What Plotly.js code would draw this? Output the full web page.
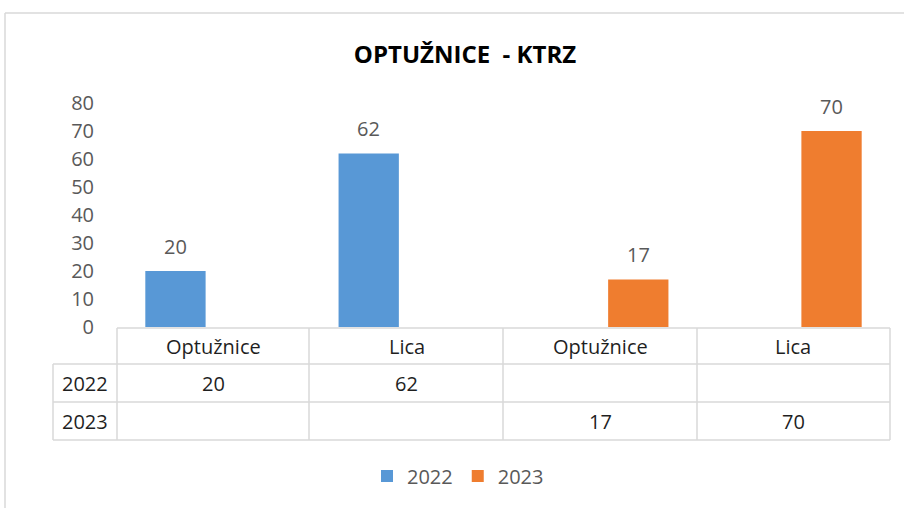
<!DOCTYPE html>
<html>
<head>
<meta charset="utf-8">
<script src="https://cdn.plot.ly/plotly-3.0.1.min.js"></script>
<style>html,body{margin:0;padding:0;background:#fff;}#chart{width:904px;height:508px;}</style>
</head>
<body>
<div id="chart"></div>
<script>
const categories = ['Optužnice', 'Lica', 'Optužnice', 'Lica'];
const seriesNames = ['2022', '2023'];
const values2022 = [20, 62, null, null];
const values2023 = [null, null, 17, 70];
const seriesValues = [values2022, values2023];
const seriesColors = ['#5898d6', '#ef7d2f'];
const titleText = 'OPTUŽNICE  - KTRZ';

const W = 904, H = 508;
const L = 117, R = 890, T = 103, B = 327;
const px = x => (x - L) / (R - L);
const py = y => (B - y) / (B - T);
const FONT = '"Open Sans", "Liberation Sans", sans-serif';
const gridColor = '#d9d9d9';

const xIdx = categories.map((_, i) => i);

const traces = seriesNames.map((name, s) => ({
  type: 'bar',
  name: name,
  x: xIdx,
  y: seriesValues[s],
  marker: {color: seriesColors[s]},
  hoverinfo: 'none'
}));

const shapes = [];
const annotations = [];
const line = (x0, y0, x1, y1, c) => shapes.push({
  type: 'line', xref: 'paper', yref: 'paper',
  x0: px(x0), y0: py(y0), x1: px(x1), y1: py(y1),
  line: {color: c || gridColor, width: 1.5}
});

// outer chart border
line(5, 13, 904, 13, '#d9d9d9');
line(5, 13, 5, 508, '#d9d9d9');

// data table
const colEdges = [117, 309, 503, 697, 890];
const rowEdges = [328, 364, 402, 440];
line(117, rowEdges[0], 890, rowEdges[0]);
for (let r = 1; r < rowEdges.length; r++) line(53, rowEdges[r], 890, rowEdges[r]);
colEdges.forEach(x => line(x, rowEdges[0], x, rowEdges[3]));
line(53, rowEdges[1], 53, rowEdges[3]);

const tableFont = {family: FONT, size: 20, color: '#1f1f1f'};
categories.forEach((c, i) => {
  annotations.push({
    xref: 'x', yref: 'paper', x: i, y: py((rowEdges[0] + rowEdges[1]) / 2),
    text: c, showarrow: false, font: tableFont, xanchor: 'center', yanchor: 'middle'
  });
});
seriesNames.forEach((name, s) => {
  const yc = py((rowEdges[s + 1] + rowEdges[s + 2]) / 2);
  annotations.push({
    xref: 'paper', yref: 'paper', x: px(85), y: yc,
    text: name, showarrow: false, font: tableFont, xanchor: 'center', yanchor: 'middle'
  });
  seriesValues[s].forEach((v, i) => {
    if (v === null) return;
    annotations.push({
      xref: 'x', yref: 'paper', x: i, y: yc,
      text: String(v), showarrow: false, font: tableFont, xanchor: 'center', yanchor: 'middle'
    });
    // data label above bar
    annotations.push({
      xref: 'x', yref: 'y', x: i, y: v,
      xshift: (s === 0 ? -38.2 : 38.2), yshift: 25,
      text: String(v), showarrow: false,
      font: {family: FONT, size: 20, color: '#595959'},
      xanchor: 'center', yanchor: 'middle'
    });
  });
});

const layout = {
  width: W, height: H,
  margin: {l: L, r: W - R, t: T, b: H - B, pad: 0},
  paper_bgcolor: '#ffffff', plot_bgcolor: '#ffffff',
  font: {family: FONT, color: '#595959'},
  title: {
    text: '<b>' + titleText + '</b>',
    font: {family: FONT, size: 24, color: '#000000'},
    xref: 'container', yref: 'container',
    x: 465 / W, y: 1 - 55 / H, xanchor: 'center', yanchor: 'middle'
  },
  barmode: 'group',
  bargap: 0.21,
  bargroupgap: 0.21,
  xaxis: {
    range: [-0.5, 3.5], showticklabels: false, showgrid: false,
    zeroline: false, showline: false, ticks: '', fixedrange: true
  },
  yaxis: {
    range: [0, 80], dtick: 10, tick0: 0, showgrid: false, zeroline: false,
    showline: false, ticks: '', ticklabelstandoff: 22,
    tickfont: {family: FONT, size: 20, color: '#595959'}, fixedrange: true
  },
  showlegend: true,
  legend: {
    orientation: 'h', xref: 'container', yref: 'container',
    x: 458 / W, y: 1 - 476 / H, xanchor: 'center', yanchor: 'middle',
    font: {family: FONT, size: 20, color: '#595959'},
    itemclick: false, itemdoubleclick: false
  },
  shapes: shapes,
  annotations: annotations
};

Plotly.newPlot('chart', traces, layout, {displayModeBar: false, staticPlot: true});
</script>
</body>
</html>
